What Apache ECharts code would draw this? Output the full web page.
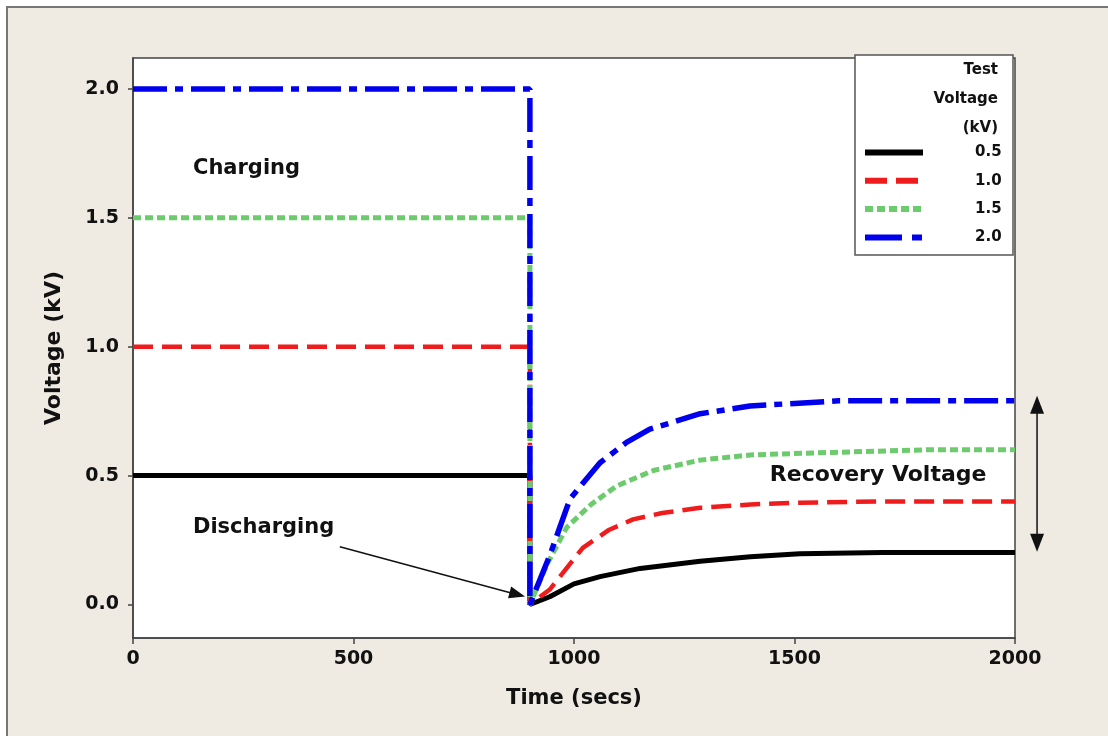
<!DOCTYPE html>
<html>
<head>
<meta charset="utf-8">
<script src="https://cdn.jsdelivr.net/npm/echarts@6/dist/echarts.min.js"></script>
<style>
  html, body { margin: 0; padding: 0; background: #fff; overflow: hidden; }
  #frame { position: absolute; left: 6px; top: 6px; width: 1130px; height: 760px;
           background: #EFEBE2; border: 2px solid #777; }
  #chart { position: absolute; left: 0; top: 0; width: 1108px; height: 736px; }
</style>
</head>
<body>
<div id="frame"></div>
<div id="chart"></div>
<script>
(function(){
	// test voltages (kV) and recovery curves after the discharge at t = 900 s
	var names = ['0.5', '1.0', '1.5', '2.0'];
	var levels = [0.5, 1.0, 1.5, 2.0];
	var chargeEnd = 900;
	var rec05 = [[945,0.03],[1000,0.08],[1059,0.108],[1150,0.14],[1286,0.168],[1400,0.185],[1512,0.197],[1700,0.202],[2000,0.202]];
	var rec10 = [[945,0.058],[1020,0.22],[1080,0.29],[1134,0.33],[1200,0.355],[1286,0.375],[1400,0.388],[1512,0.395],[1700,0.4],[2000,0.4]];
	var rec15 = [[940,0.16],[984,0.30],[1040,0.39],[1097,0.46],[1180,0.52],[1286,0.56],[1400,0.58],[1587,0.59],[1800,0.6],[2000,0.6]];
	var rec20 = [[945,0.19],[991,0.41],[1059,0.55],[1120,0.63],[1172,0.68],[1286,0.74],[1399,0.77],[1600,0.79],[2000,0.79]];
	var recovery = [rec05, rec10, rec15, rec20];
	var yTicks = [0, 0.5, 1.0, 1.5, 2.0];

	var colors = ['#000000', '#EE1C1C', '#6CCB6C', '#0000EE'];
	var widths = [5, 4.5, 5, 5.5];
	var dashes = ['solid', [20, 9], [8, 4], [34, 8, 8, 8]];

	var font = '"DejaVu Sans", Verdana, sans-serif';

	var series = names.map(function(n, i){
		var pts = [[0, levels[i]], [chargeEnd, levels[i]], [chargeEnd, 0]].concat(recovery[i]);
		return {
			name: n,
			type: 'line',
			data: pts,
			symbol: 'none',
			smooth: false,
			z: 2 + i,
			lineStyle: { color: colors[i], width: widths[i], type: dashes[i], cap: 'butt' },
			itemStyle: { color: colors[i] }
		};
	});

	var chart = echarts.init(document.getElementById('chart'));
	chart.setOption({
		backgroundColor: 'transparent',
		animation: false,
		grid: { left: 133, right: 93, top: 58, bottom: 98, show: true,
			backgroundColor: '#fff', borderColor: '#444', borderWidth: 1.5 },
		legend: {
			orient: 'vertical', left: 857, top: 140, z: 20,
			itemWidth: 58, itemHeight: 10, itemGap: 13.3,
			data: names.map(function(n, i){
				return { name: n, lineStyle: { width: 6, type: i === 1 ? [22, 9] : i === 3 ? [37, 10, 10, 10] : dashes[i], cap: 'butt' } };
			}),
			itemStyle: { color: 'transparent', borderWidth: 0 },
			textStyle: { fontFamily: font, fontWeight: 'bold', fontSize: 15, color: '#111', padding: [0, 0, 0, 47] }
		},
		xAxis: {
			type: 'value', min: 0, max: 2000, interval: 500,
			name: 'Time (secs)', nameLocation: 'middle', nameGap: 50,
			nameTextStyle: { fontFamily: font, fontWeight: 'bold', fontSize: 21, color: '#111' },
			axisLine: { onZero: false, lineStyle: { color: '#444', width: 1.5 } },
			axisTick: { length: 6, lineStyle: { color: '#444', width: 1.5 } },
			axisLabel: { fontFamily: font, fontWeight: 'bold', fontSize: 19, color: '#111', margin: 12,
				formatter: function(v){ return String(v); } },
			splitLine: { show: false }
		},
		yAxis: {
			type: 'value', min: -0.13, max: 2.12,
			name: 'Voltage (kV)', nameLocation: 'middle', nameGap: 68,
			nameTextStyle: { fontFamily: font, fontWeight: 'bold', fontSize: 22, color: '#111' },
			axisLine: { lineStyle: { color: '#444', width: 1.5 } },
			axisTick: { length: 5, customValues: yTicks, lineStyle: { color: '#444', width: 1.5 } },
			axisLabel: { fontFamily: font, fontWeight: 'bold', fontSize: 19, color: '#111', margin: 14,
				customValues: yTicks, formatter: function(v){ return v.toFixed(1); } },
			splitLine: { show: false }
		},
		series: series
	});

	// annotations, placed in data coordinates
	function px(t, v){ return chart.convertToPixel({ gridIndex: 0 }, [t, v]); }
	function head(tip, from, len, half){
		var dx = tip[0] - from[0], dy = tip[1] - from[1];
		var d = Math.sqrt(dx * dx + dy * dy); dx /= d; dy /= d;
		var bx = tip[0] - dx * len, by = tip[1] - dy * len;
		return { type: 'polygon', z: 30, shape: { points: [tip, [bx - dy * half, by + dx * half], [bx + dy * half, by - dx * half]] },
			style: { fill: '#111' } };
	}
	function label(txt, t, v, size){
		var p = px(t, v);
		return { type: 'text', z: 30, x: p[0], y: p[1],
			style: { text: txt, font: 'bold ' + size + 'px ' + font, fill: '#111', verticalAlign: 'middle' } };
	}

	var a0 = px(469, 0.224), a1 = px(889, 0.031);
	var b0 = px(2050, 0.81), b1 = px(2050, 0.205);
	chart.setOption({
		graphic: [
			{ type: 'rect', z: 10, shape: { x: 855, y: 55, width: 158, height: 200 },
				style: { fill: '#fff', stroke: '#555', lineWidth: 1.5 } },
			{ type: 'text', z: 30, x: 998, y: 56,
				style: { text: 'Test\nVoltage\n(kV)', font: 'bold 15px ' + font, fill: '#111', align: 'right', lineHeight: 29 } },
			label('Charging', 136, 1.69, 21),
			label('Discharging', 136, 0.298, 21),
			label('Recovery Voltage', 1444, 0.503, 22),
			{ type: 'line', z: 30, shape: { x1: a0[0], y1: a0[1], x2: a1[0] - 12, y2: a1[1] - 3 },
				style: { stroke: '#111', lineWidth: 1.5 } },
			head(a1, a0, 16, 6),
			{ type: 'line', z: 30, shape: { x1: b0[0], y1: b0[1] + 10, x2: b1[0], y2: b1[1] - 10 },
				style: { stroke: '#111', lineWidth: 1.5 } },
			head(b0, b1, 18, 7),
			head(b1, b0, 18, 7)
		]
	});
})();
</script>
</body>
</html>
